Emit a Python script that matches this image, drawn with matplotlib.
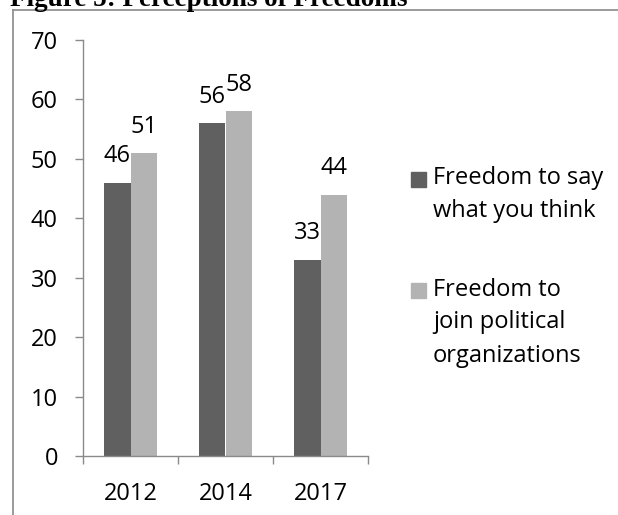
import numpy as np
import matplotlib.pyplot as plt
from matplotlib.lines import Line2D
from matplotlib.patches import Rectangle

years = ["2012", "2014", "2017"]
say_what_you_think = [46, 56, 33]
join_political_orgs = [51, 58, 44]
series_labels = ["Freedom to say\nwhat you think",
                 "Freedom to\njoin political\norganizations"]
title = "Figure 5: Perceptions of Freedoms"

dark = "#606060"
light = "#b3b3b3"
axis_grey = "#8a8a8a"
font = ["Open Sans", "DejaVu Sans"]

W, H = 618, 515
fig = plt.figure(figsize=(W / 100, H / 100), dpi=100)
ax = fig.add_axes([83 / W, (H - 456) / H, 285 / W, 416 / H])

x = np.arange(len(years))
w = 0.28
b1 = ax.bar(x - w / 2, say_what_you_think, w, color=dark)
b2 = ax.bar(x + w / 2, join_political_orgs, w, color=light)

for bars, vals in [(b1, say_what_you_think), (b2, join_political_orgs)]:
    for r, v in zip(bars, vals):
        ax.annotate(str(v), (r.get_x() + r.get_width() / 2, v),
                    xytext=(0, 19), textcoords="offset points",
                    ha="center", va="center", fontsize=17, family=font)

ax.set_xlim(-0.5, len(years) - 0.5)
ax.set_ylim(0, 70)
ax.set_yticks(range(0, 71, 10))
ax.set_xticks(np.arange(len(years) + 1) - 0.5)
ax.set_xticklabels([])
ax.set_xticks(x, minor=True)
ax.set_xticklabels(years, minor=True)

for s in ["top", "right"]:
    ax.spines[s].set_visible(False)
for s in ["left", "bottom"]:
    ax.spines[s].set_color(axis_grey)
    ax.spines[s].set_linewidth(1.0)

ax.tick_params(axis="y", direction="out", length=6, width=1.0, color=axis_grey,
               pad=12, labelsize=17)
ax.tick_params(axis="x", which="major", direction="out", length=6, width=1.0,
               color=axis_grey)
ax.tick_params(axis="x", which="minor", length=0, pad=19, labelsize=17)
for lab in ax.get_xticklabels(minor=True) + ax.get_yticklabels():
    lab.set_family(font)

# legend drawn by hand so the square sits on the first line
legend_y = [179, 290.5]
for lab, col, yy in zip(series_labels, [dark, light], legend_y):
    fig.add_artist(Rectangle((411 / W, 1 - (yy + 7.5) / H), 15 / W, 15 / H,
                             transform=fig.transFigure, color=col))
    fig.text(433 / W, 1 - (yy - 13) / H, lab, ha="left", va="top",
             fontsize=17, family=font, linespacing=1.5)

# outer frame lines and clipped caption
fig.add_artist(Line2D([13 / W, 1], [1 - 10 / H, 1 - 10 / H],
                      transform=fig.transFigure, color=axis_grey, lw=1.2))
fig.add_artist(Line2D([13 / W, 13 / W], [1 - 10 / H, 0],
                      transform=fig.transFigure, color=axis_grey, lw=1.2))
fig.text(10 / W, 1 - 6 / H, title, ha="left", va="baseline",
         fontsize=19.5, fontweight="bold", family="Liberation Serif")

fig.savefig("out.png", dpi=100)
